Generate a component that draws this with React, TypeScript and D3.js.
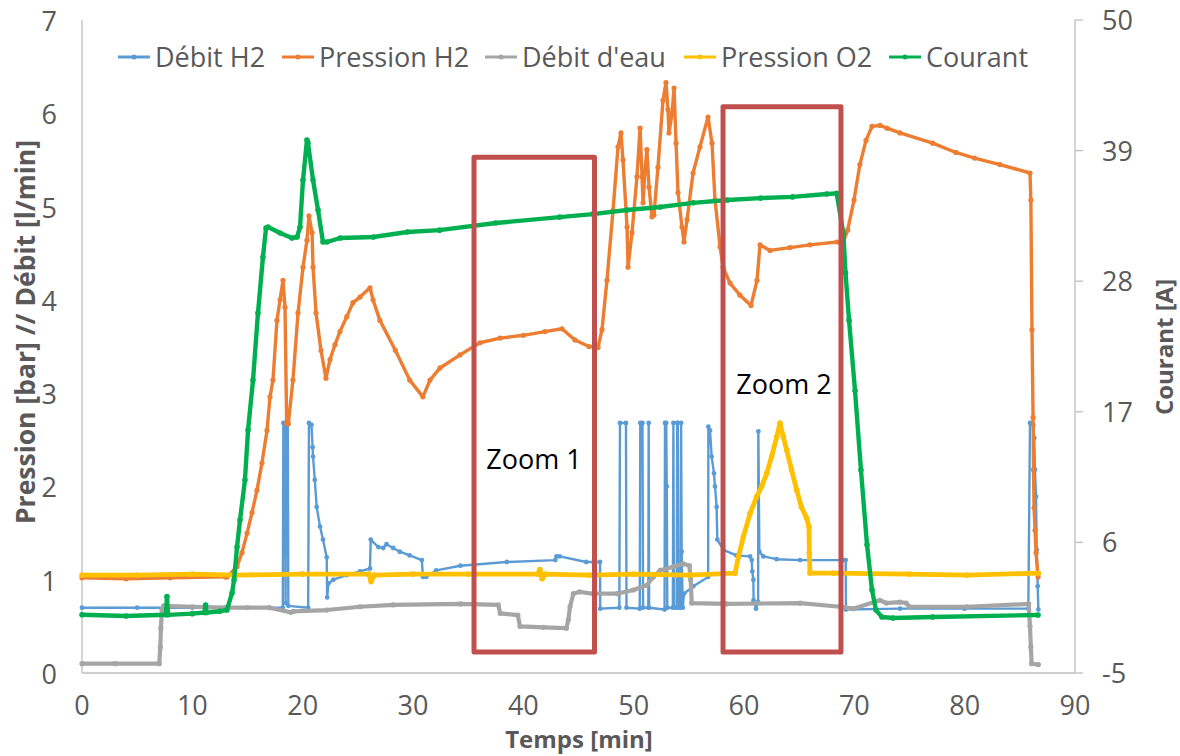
import React from 'react';
import * as d3 from 'd3';

// ---- Data ----
const xTicks = [0, 10, 20, 30, 40, 50, 60, 70, 80, 90];
const leftTicks = [0, 1, 2, 3, 4, 5, 6, 7];
const rightTicks = [-5, 6, 17, 28, 39, 50];

const seriesNames = ['Débit H2', 'Pression H2', "Débit d'eau", 'Pression O2', 'Courant'];

// [time (min), value]
const debitH2: [number, number][] = [
  [0, 0.7], [5, 0.7], [10, 0.7], [15, 0.7], [18.2, 0.7], [18.25, 2.68], [18.4, 2.68], [18.45, 0.75],
  [18.5, 2.68], [18.65, 2.68], [18.7, 0.72], [20.5, 0.7], [20.57, 2.68], [20.8, 2.66], [20.9, 2.42],
  [20.94, 2.32], [21.1, 2.07], [21.27, 1.78], [21.57, 1.57], [21.84, 1.43], [22.18, 1.24], [22.22, 0.81],
  [22.33, 0.96], [22.78, 1.0], [24.0, 1.05], [25.2, 1.09], [26.1, 1.12], [26.17, 1.43], [26.86, 1.35],
  [27.3, 1.34], [27.6, 1.38], [28.2, 1.34], [28.8, 1.3], [29.7, 1.26], [30.8, 1.21], [30.9, 1.03],
  [31.2, 1.03], [32.1, 1.1], [34.3, 1.15], [38.5, 1.19], [42.9, 1.21], [43.0, 1.25], [43.3, 1.25],
  [45.7, 1.19], [46.95, 1.19], [46.97, 0.69], [48.7, 0.7], [48.76, 2.68], [49.3, 2.68], [49.35, 0.7],
  [50.55, 0.69], [50.6, 2.68], [50.8, 2.68], [50.85, 0.7], [51.33, 0.7], [51.36, 2.68], [51.4, 0.7],
  [52.8, 0.68], [52.84, 2.68], [52.95, 2.68], [53.0, 2.0], [53.05, 0.7], [53.55, 0.7], [53.6, 2.68],
  [53.65, 0.7], [53.9, 0.7], [53.95, 2.68], [54.0, 2.68], [54.05, 0.7], [54.25, 0.7], [54.3, 2.68],
  [54.35, 1.3], [54.45, 0.7], [54.56, 0.85], [55.4, 0.93], [56.75, 1.03], [56.77, 2.64], [56.92, 2.6],
  [57.07, 2.32], [57.28, 2.14], [57.37, 2.0], [57.52, 1.78], [57.58, 1.43], [58.13, 1.32], [59.3, 1.26],
  [60.55, 1.25], [60.7, 1.21], [60.75, 1.09], [60.85, 1.0], [60.87, 0.78], [61.09, 0.69], [61.28, 0.76],
  [61.3, 2.59], [61.39, 1.3], [61.75, 1.25], [62.96, 1.22], [65.08, 1.21], [69.0, 1.21], [69.22, 1.21],
  [69.24, 0.68], [74.14, 0.69], [80, 0.69], [85.77, 0.69], [85.92, 2.68], [86.22, 2.66], [86.31, 2.52],
  [86.37, 2.18], [86.47, 1.89], [86.53, 1.32], [86.62, 0.93], [86.68, 0.68],
];

const pressionH2: [number, number][] = [
  [0, 1.02], [4, 1.01], [8, 1.02], [13, 1.03], [13.14, 1.03], [14.05, 1.14], [14.5, 1.29], [14.96, 1.5],
  [15.41, 1.72], [15.86, 1.96], [16.31, 2.25], [16.77, 2.6], [17.04, 2.96], [17.31, 3.14], [17.67, 3.78],
  [17.95, 4.0], [18.22, 4.21], [18.4, 3.92], [18.55, 2.68], [18.7, 2.67], [19.12, 3.14], [19.58, 3.86],
  [20.03, 4.35], [20.39, 4.64], [20.57, 4.9], [20.85, 4.72], [20.94, 4.35], [21.21, 3.86], [21.66, 3.46],
  [22.11, 3.16], [22.48, 3.36], [22.93, 3.52], [23.38, 3.66], [24.0, 3.82], [24.56, 3.97], [25.2, 4.03],
  [26.1, 4.13], [26.38, 4.0], [27.0, 3.78], [28.4, 3.46], [29.7, 3.14], [30.9, 2.96], [31.54, 3.14],
  [32.45, 3.27], [34.26, 3.41], [36.07, 3.54], [37.9, 3.59], [40.0, 3.62], [41.96, 3.66], [43.5, 3.69],
  [44.68, 3.57], [45.95, 3.5], [46.77, 3.49], [47.13, 3.68], [47.58, 4.21], [48.13, 4.96], [48.58, 5.64],
  [48.85, 5.79], [49.03, 5.5], [49.4, 4.78], [49.49, 4.35], [49.85, 4.72], [50.3, 5.32], [50.58, 5.84],
  [50.76, 5.32], [50.85, 5.04], [51.03, 5.39], [51.2, 5.61], [51.39, 5.21], [51.66, 4.89], [51.84, 4.91],
  [52.2, 5.42], [52.66, 6.14], [52.93, 6.33], [53.11, 6.04], [53.2, 5.79], [53.48, 6.0], [53.66, 6.27],
  [53.84, 5.68], [54.02, 5.15], [54.38, 4.78], [54.56, 4.62], [54.84, 4.86], [55.38, 5.36], [56.01, 5.64],
  [56.74, 5.96], [57.1, 5.68], [57.37, 5.07], [57.83, 4.57], [58.1, 4.35], [58.73, 4.18], [59.64, 4.05],
  [60.64, 3.94], [61.18, 4.21], [61.45, 4.59], [62.36, 4.53], [64.17, 4.56], [65.98, 4.59], [68.43, 4.62],
  [68.97, 4.61], [69.4, 4.75], [69.97, 5.07], [70.5, 5.45], [71.06, 5.71], [71.6, 5.86], [72.33, 5.87],
  [72.96, 5.84], [74.14, 5.79], [77.1, 5.68], [79.2, 5.58], [80.9, 5.52], [83.2, 5.45], [85.92, 5.36],
  [86.0, 5.07], [86.1, 3.68], [86.2, 2.74], [86.24, 2.18], [86.29, 1.77], [86.38, 1.53], [86.47, 1.29],
  [86.65, 1.03],
];

const debitEau: [number, number][] = [
  [0, 0.1], [3, 0.1], [7.0, 0.1], [7.1, 0.28], [7.15, 0.48], [7.25, 0.68], [7.4, 0.72], [10, 0.71],
  [13, 0.7], [17, 0.7], [18.93, 0.65], [19.15, 0.66], [22.18, 0.675], [25.2, 0.71], [28.2, 0.73],
  [34.3, 0.74], [37.73, 0.73], [37.9, 0.64], [39.5, 0.62], [39.7, 0.5], [41.8, 0.49], [43.9, 0.48],
  [44.08, 0.57], [44.23, 0.71], [44.53, 0.85], [45.1, 0.87], [46.3, 0.85], [48.5, 0.85], [49.97, 0.89],
  [51.18, 0.94], [51.78, 1.03], [52.4, 1.1], [53.6, 1.14], [54.5, 1.17], [55.05, 1.15], [55.17, 1.0],
  [55.26, 0.75], [58.43, 0.74], [65.1, 0.75], [68.7, 0.71], [69.9, 0.69], [72.3, 0.78], [72.9, 0.75],
  [74.1, 0.76], [74.7, 0.75], [75.0, 0.71], [80.2, 0.71], [85.8, 0.74], [85.92, 0.5], [86.0, 0.28],
  [86.07, 0.1], [86.68, 0.09],
];

const pressionO2: [number, number][] = [
  [0, 1.05], [5, 1.05], [10, 1.06], [14, 1.05], [20, 1.06], [26.0, 1.06], [26.2, 0.98], [26.5, 1.05],
  [30, 1.06], [35, 1.06], [41.3, 1.06], [41.5, 1.11], [41.7, 1.01], [42, 1.06], [46, 1.05], [50, 1.06],
  [55, 1.05], [59.19, 1.07], [59.5, 1.25], [59.94, 1.46], [60.55, 1.71], [61.15, 1.89], [61.6, 2.0],
  [62.06, 2.14], [62.5, 2.32], [62.96, 2.53], [63.26, 2.68], [63.57, 2.53], [63.87, 2.39], [64.3, 2.18],
  [64.78, 1.96], [65.2, 1.78], [65.68, 1.66], [65.89, 1.57], [65.92, 1.28], [65.98, 1.07], [68.1, 1.07],
  [75, 1.06], [80.2, 1.05], [86.68, 1.07],
];

// Courant [A] on the right axis
const courant: [number, number][] = [
  [0, -0.1], [4, -0.2], [7.6, -0.1], [7.7, 1.43], [7.8, -0.1], [10, 0.0], [11.1, 0.1], [11.2, 0.73],
  [11.3, 0.1], [12.5, 0.2], [13.14, 0.31], [13.6, 1.74], [13.78, 2.83], [14.05, 5.61], [14.32, 7.89],
  [14.77, 11.26], [15.05, 15.47], [15.5, 19.68], [15.95, 25.32], [16.4, 30.04], [16.68, 32.48],
  [16.86, 32.56], [17.95, 32.06], [19.03, 31.64], [19.49, 31.72], [19.76, 32.56], [20.03, 36.52],
  [20.39, 39.89], [20.48, 39.64], [20.94, 36.52], [21.39, 34.0], [21.84, 31.3], [22.2, 31.3],
  [23.4, 31.64], [26.4, 31.72], [29.5, 32.14], [32.4, 32.3], [37.5, 32.9], [43.3, 33.4], [46.3, 33.65],
  [49.4, 34.0], [52.4, 34.25], [55.4, 34.6], [58.5, 34.84], [61.5, 35.0], [64.4, 35.1], [67.5, 35.34],
  [68.4, 35.4], [69.0, 32.06], [69.2, 28.7], [69.52, 24.7], [70.06, 18.8], [70.6, 12.1], [71.15, 5.8],
  [71.6, 2.0], [71.96, 0.3], [72.5, -0.28], [73.5, -0.37], [77.1, -0.28], [86.65, -0.11],
];

// Annotation boxes (data coordinates)
const zoomLabels = ['Zoom 1', 'Zoom 2'];
const zoomX0 = [35.53, 58.1];
const zoomX1 = [46.45, 68.79];
const zoomYTop = [5.53, 6.07];
const zoomYBottom = [0.225, 0.225];
const zoomLabelX = [40.97, 63.63];
const zoomLabelY = [2.19, 2.99];

// ---- Styles ----
const COLORS = ['#5B9BD5', '#ED7D31', '#A5A5A5', '#FFC000', '#00B050'];
const WIDTHS = [2.4, 3.4, 4.2, 4.8, 4.4];
const RADII = [2.4, 2.6, 2.6, 2.8, 2.8];
const LEGEND_X = [118, 282, 485, 684, 889];
const FONT = "'Open Sans', 'DejaVu Sans', sans-serif";
const TEXT = '#595959';
const AXIS = '#BFBFBF';

export default function App() {
  const W = 1180;
  const H = 756;
  const x = d3.scaleLinear().domain([0, 90]).range([82, 1075]);
  const yL = d3.scaleLinear().domain([0, 7]).range([673, 20]);
  const yR = d3.scaleLinear().domain([-5, 50]).range([673, 20]);

  const datasets = [debitH2, pressionH2, debitEau, pressionO2, courant];
  const scalesY = [yL, yL, yL, yL, yR];

  React.useEffect(() => {
    document.body.style.margin = '0';
  }, []);

  return (
    <svg
      width={W}
      height={H}
      viewBox={`0 0 ${W} ${H}`}
      style={{ position: 'absolute', left: 0, top: 0, background: '#fff' }}
      fontFamily={FONT}
    >
      <rect x={0} y={0} width={W} height={H} fill="#fff" />
      {/* axes */}
      <line x1={x(0)} x2={x(0)} y1={yL(7)} y2={yL(0)} stroke={AXIS} strokeWidth={1.3} />
      <line x1={x(0)} x2={x(90)} y1={yL(0)} y2={yL(0)} stroke={AXIS} strokeWidth={1.3} />
      <line x1={x(90)} x2={x(90)} y1={yR(50)} y2={yR(-5)} stroke={AXIS} strokeWidth={1.3} />
      {rightTicks.map((t) => (
        <line key={'rt' + t} x1={x(90)} x2={x(90) + 8} y1={yR(t)} y2={yR(t)} stroke={AXIS} strokeWidth={1.3} />
      ))}

      {/* tick labels */}
      {leftTicks.map((t) => (
        <text key={'lt' + t} x={57} y={yL(t) + 11} textAnchor="end" fontSize={27} fill={TEXT}>
          {t}
        </text>
      ))}
      {rightTicks.map((t) => (
        <text key={'rl' + t} x={1102} y={yR(t) + 10} textAnchor="start" fontSize={27} fill={TEXT}>
          {t}
        </text>
      ))}
      {xTicks.map((t) => (
        <text key={'xt' + t} x={x(t)} y={715} textAnchor="middle" fontSize={27} fill={TEXT}>
          {t}
        </text>
      ))}

      {/* axis titles */}
      <text x={579} y={748} textAnchor="middle" fontSize={24} fontWeight="bold" fill={TEXT}>
        Temps [min]
      </text>
      <text
        transform="translate(35,332) rotate(-90)"
        textAnchor="middle"
        fontSize={26.5}
        fontWeight="bold"
        fill={TEXT}
      >
        Pression [bar] // Débit [l/min]
      </text>
      <text
        transform="translate(1173,347) rotate(-90)"
        textAnchor="middle"
        fontSize={24}
        fontWeight="bold"
        fill={TEXT}
      >
        Courant [A]
      </text>

      {/* series */}
      {datasets.map((data, i) => {
        const yS = scalesY[i];
        const line = d3
          .line<[number, number]>()
          .x((d) => x(d[0]))
          .y((d) => yS(d[1]));
        return (
          <g key={'s' + i}>
            <path
              d={line(data) || ''}
              fill="none"
              stroke={COLORS[i]}
              strokeWidth={WIDTHS[i]}
              strokeLinejoin="round"
              strokeLinecap="round"
            />
            {data.map((d, j) => (
              <circle key={j} cx={x(d[0])} cy={yS(d[1])} r={RADII[i]} fill={COLORS[i]} />
            ))}
          </g>
        );
      })}

      {/* zoom boxes */}
      {zoomLabels.map((lab, i) => (
        <g key={'z' + i}>
          <rect
            x={x(zoomX0[i])}
            y={yL(zoomYTop[i])}
            width={x(zoomX1[i]) - x(zoomX0[i])}
            height={yL(zoomYBottom[i]) - yL(zoomYTop[i])}
            fill="none"
            stroke="#C0504D"
            strokeWidth={5}
            strokeLinejoin="round"
          />
          <text x={x(zoomLabelX[i])} y={yL(zoomLabelY[i])} textAnchor="middle" fontSize={27} fill="#000">
            {lab}
          </text>
        </g>
      ))}

      {/* legend */}
      {seriesNames.map((name, i) => (
        <g key={'lg' + i}>
          <line x1={LEGEND_X[i]} x2={LEGEND_X[i] + 32} y1={57} y2={57} stroke={COLORS[i]} strokeWidth={3} />
          <circle cx={LEGEND_X[i] + 16} cy={57} r={2.5} fill={COLORS[i]} />
          <text x={LEGEND_X[i] + 37} y={67} fontSize={27} fill={TEXT}>
            {name}
          </text>
        </g>
      ))}
    </svg>
  );
}
